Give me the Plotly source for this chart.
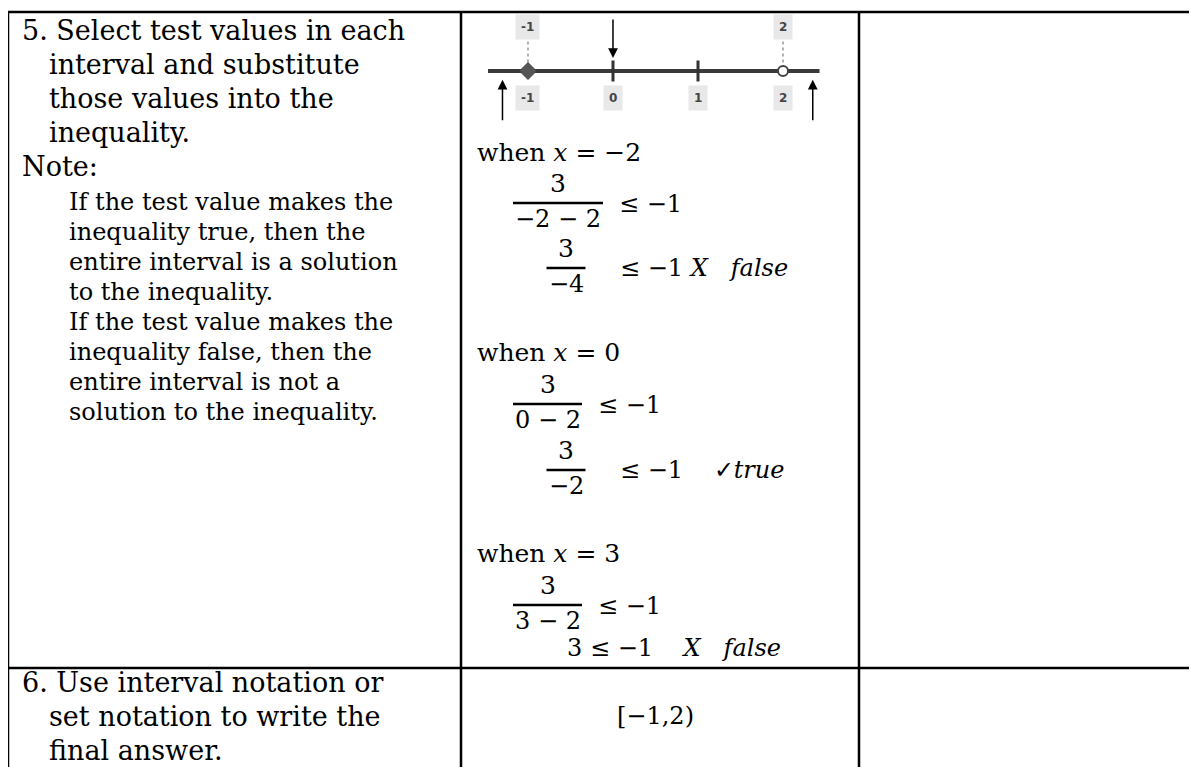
import plotly.graph_objects as go

W, H = 1197, 767
OFF = 8  # page body margin, so the axes below read in page pixels

# number line data
line_span = [-1.47, 2.43]
closed_pts = [-1]
open_pts = [2]
inner_ticks = [0, 1]
top_label_vals = [-1, 2]
top_labels = ["-1", "2"]
bottom_label_vals = [-1, 0, 1, 2]
bottom_labels = ["-1", "0", "1", "2"]
up_arrow_vals = [-1.3, 2.35]
down_arrow_vals = [0]

# table text
step5_lines = ["5. Select test values in each", "interval and substitute",
               "those values into the", "inequality."]
note_label = "Note:"
note_lines = ["If the test value makes the", "inequality true, then the",
              "entire interval is a solution", "to the inequality.",
              "If the test value makes the", "inequality false, then the",
              "entire interval is not a", "solution to the inequality."]
step6_lines = ["6. Use interval notation or", "set notation to write the",
               "final answer."]
answer = "[−1,2)"

test_values = ["−2", "0", "3"]
first_dens = ["−2 − 2", "0 − 2", "3 − 2"]
second_lhs = ["−4", "−2", None]
verdicts = ["<i>X</i>&nbsp;&nbsp;&nbsp;<i>false</i>", "&nbsp;&nbsp;&nbsp;✓<i>true</i>",
            "&nbsp;&nbsp;&nbsp;<i>X</i>&nbsp;&nbsp;&nbsp;<i>false</i>"]

TXT = "DejaVu Serif"
MATH = "DejaVu Serif"
MS = 24

fig = go.Figure()

# number line on its own axes inside column 2
fig.add_trace(go.Scatter(x=line_span, y=[0, 0], xaxis="x2", yaxis="y2",
                         mode="lines", line=dict(color="#3a3a3a", width=4),
                         hoverinfo="skip", showlegend=False))
for v in top_label_vals:
    fig.add_trace(go.Scatter(x=[v, v], y=[0.5, 0.14], xaxis="x2", yaxis="y2",
                             mode="lines", line=dict(color="#999", width=1.5, dash="dot"),
                             hoverinfo="skip", showlegend=False))
fig.add_trace(go.Scatter(x=inner_ticks, y=[0] * len(inner_ticks), xaxis="x2", yaxis="y2",
                         mode="markers",
                         marker=dict(symbol="line-ns", size=15, line=dict(color="#333", width=3)),
                         hoverinfo="skip", showlegend=False))
fig.add_trace(go.Scatter(x=closed_pts, y=[0] * len(closed_pts), xaxis="x2", yaxis="y2",
                         mode="markers",
                         marker=dict(symbol="diamond", size=13, color="#555",
                                     line=dict(color="#444", width=1)),
                         hoverinfo="skip", showlegend=False))
fig.add_trace(go.Scatter(x=open_pts, y=[0] * len(open_pts), xaxis="x2", yaxis="y2",
                         mode="markers",
                         marker=dict(symbol="circle", size=10, color="white",
                                     line=dict(color="#444", width=2)),
                         hoverinfo="skip", showlegend=False))

ann = []
for v, t in zip(top_label_vals, top_labels):
    ann.append(dict(x=v, y=0.74, xref="x2", yref="y2", text="<b>%s</b>" % t,
                    showarrow=False, bgcolor="#e8e8e8", borderpad=5,
                    font=dict(family="DejaVu Sans", size=12, color="#444")))
for v, t in zip(bottom_label_vals, bottom_labels):
    ann.append(dict(x=v, y=-0.45, xref="x2", yref="y2", text="<b>%s</b>" % t,
                    showarrow=False, bgcolor="#e8e8e8", borderpad=5,
                    font=dict(family="DejaVu Sans", size=12, color="#444")))
for v in up_arrow_vals:
    ann.append(dict(x=v, y=-0.15, xref="x2", yref="y2", text="", showarrow=True,
                    arrowhead=2, arrowsize=1.3, arrowwidth=1.5, arrowcolor="black",
                    ax=0, ay=42))
for v in down_arrow_vals:
    ann.append(dict(x=v, y=0.22, xref="x2", yref="y2", text="", showarrow=True,
                    arrowhead=2, arrowsize=1.3, arrowwidth=1.5, arrowcolor="black",
                    ax=0, ay=-40))


def text(x, y, s, size, family=TXT, anchor="left"):
    ann.append(dict(x=x, y=y, xref="x", yref="y", text=s, showarrow=False,
                    xanchor=anchor, yanchor="middle",
                    font=dict(family=family, size=size, color="black")))


# column 1
for i, s in enumerate(step5_lines):
    text(20 if i == 0 else 47, 30 + 34 * i, s, 27)
text(20, 166, note_label, 27)
for i, s in enumerate(note_lines):
    text(67, 202 + 30 * i, s, 24)
for i, s in enumerate(step6_lines):
    text(20 if i == 0 else 47, 682 + 34 * i, s, 27)

# column 2 math
shapes = []


def frac(xc, ybar, w, num, den):
    text(xc, ybar - 20, num, MS + 1, MATH, "center")
    text(xc, ybar + 16, den, MS, MATH, "center")
    shapes.append(dict(type="line", xref="x", yref="y", x0=xc - w / 2, x1=xc + w / 2,
                       y0=ybar, y1=ybar, line=dict(color="black", width=2.5)))


blocks = [(152, 203, 90, 268), (352, 404, 69, 470), (553, 605, 69, 648)]
for k, (yw, yb1, w1, yb2) in enumerate(blocks):
    text(475, yw, "when <i>x</i> = %s" % test_values[k], MS + 1, MATH)
    frac(513 + w1 / 2, yb1, w1, "3", first_dens[k])
    text(513 + w1 + 14, yb1 + 1, "≤ −1", MS, MATH)
    if second_lhs[k] is not None:
        frac(585 - 19, yb2, 39, "3", second_lhs[k])
        text(605 + 13, yb2, "≤ −1 " + verdicts[k], MS, MATH)
    else:
        text(565, yb2, "3&nbsp;≤ −1 " + verdicts[k], MS, MATH)

text(655, 716, answer, MS, MATH, "center")

# table grid
for x0, y0, x1, y1 in [(8, 12, W + 20, 12), (8, 12, 8, H + 20), (461, 12, 461, H + 20),
                       (859, 12, 859, H + 20), (8, 668, W + 20, 668)]:
    shapes.append(dict(type="line", xref="x", yref="y", x0=x0, y0=y0, x1=x1, y1=y1,
                       line=dict(color="black", width=2.5)))

fig.update_layout(
    width=W, height=H, margin=dict(l=0, r=0, t=0, b=0),
    paper_bgcolor="white", plot_bgcolor="white", showlegend=False,
    xaxis=dict(range=[OFF, W + OFF], visible=False, domain=[0, 1]),
    yaxis=dict(range=[H + OFF, OFF], visible=False, domain=[0, 1]),
    xaxis2=dict(range=[-1.788, 2.894], domain=[(461 - OFF) / W, (859 - OFF) / W],
                visible=False, anchor="y2"),
    yaxis2=dict(range=[-1, 1], domain=[1 - (130 - OFF) / H, 1 - (12 - OFF) / H],
                visible=False, anchor="x2"),
    annotations=ann, shapes=shapes,
)

fig.write_html("out.html")
